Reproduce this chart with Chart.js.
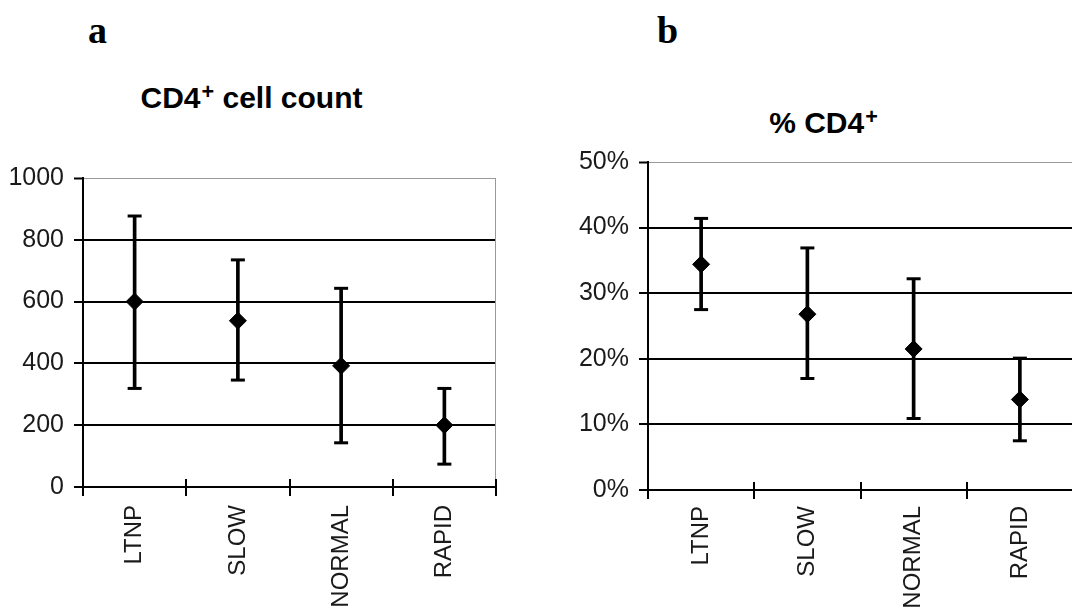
<!DOCTYPE html>
<html>
<head>
<meta charset="utf-8">
<script src="https://cdn.jsdelivr.net/npm/chart.js@4.4.1/dist/chart.umd.min.js"></script>
<style>
  body { margin: 0; background: #fff; width: 1072px; height: 610px; position: relative; overflow: hidden; }
  .letter { position: absolute; font: bold 38px "Liberation Serif", "Times New Roman", serif; line-height: 38px; color: #000; }
  .title { position: absolute; font: bold 30px "Liberation Sans", Arial, sans-serif; line-height: 30px; text-align: center; color: #000; }
  .title .sup { position: relative; top: -0.42em; font-size: 0.72em; margin-left: 1px; }
  .wrap { position: absolute; }
</style>
</head>
<body>
<div class="letter" style="left:88px; top:11px;">a</div>
<div class="letter" style="left:657px; top:11px;">b</div>
<div class="title" style="left:100px; width:303px; top:83px;">CD4<span class="sup">+</span> cell count</div>
<div class="title" style="left:723px; width:201px; top:108px;">% CD4<span class="sup">+</span></div>

<div class="wrap" style="left:0; top:150px; width:540px; height:460px;"><canvas id="countChart"></canvas></div>
<div class="wrap" style="left:540px; top:130px; width:533px; height:480px;"><canvas id="pctChart"></canvas></div>

<script>
// Progression groups
const groups = ["LTNP", "SLOW", "NORMAL", "RAPID"];

// a: CD4+ cell count (mean with range)
const countMean = [600, 538, 392, 200];
const countHigh = [877, 735, 643, 319];
const countLow = [319, 346, 143, 74];

// b: % CD4+ (mean with range)
const pctMean = [34.4, 26.8, 21.5, 13.8];
const pctHigh = [41.4, 36.9, 32.2, 20.1];
const pctLow = [27.5, 17.0, 10.9, 7.5];

const FONT = "'Liberation Sans', Arial, sans-serif";
const TEXT = "#1a1a1a";

/**
 * Plugin: gray frame on the right, and cross ticks on the x axis
 */
const frameAndTicks = {
  id: "frameAndTicks",
  afterDraw(chart) {
    const { ctx, chartArea, scales } = chart;
    const x = scales.x;
    ctx.save();
    ctx.strokeStyle = "#999";
    ctx.lineWidth = 1;
    ctx.beginPath();
    ctx.moveTo(chartArea.right - 0.5, chartArea.top);
    ctx.lineTo(chartArea.right - 0.5, chartArea.bottom);
    ctx.stroke();

    // upper half of the category ticks
    const step = x.getPixelForValue(1) - x.getPixelForValue(0);
    ctx.strokeStyle = "#000";
    ctx.lineWidth = 2;
    ctx.beginPath();
    for (let i = 0; i <= groups.length; i++) {
      const px = Math.round(x.getPixelForValue(i) - step / 2);
      ctx.moveTo(px, chartArea.bottom - 8);
      ctx.lineTo(px, chartArea.bottom);
    }
    ctx.stroke();
    ctx.restore();
  },
};

function buildErrorChart(canvasId, mean, low, high, yOpts, box) {
  const ctx = document.getElementById(canvasId).getContext("2d");
  return new Chart(ctx, {
    data: {
      labels: groups,
      datasets: [
        {
          type: "line",
          data: mean,
          showLine: false,
          pointStyle: "rectRot",
          pointRadius: 8.5,
          backgroundColor: "#000",
          borderColor: "#000",
          borderWidth: 1,
          order: 0,
        },
        {
          type: "line",
          data: high,
          showLine: false,
          pointStyle: "line",
          pointRadius: 7,
          borderColor: "#000",
          borderWidth: 3,
          order: 1,
        },
        {
          type: "line",
          data: low,
          showLine: false,
          pointStyle: "line",
          pointRadius: 7,
          borderColor: "#000",
          borderWidth: 3,
          order: 1,
        },
        {
          type: "bar",
          data: low.map((l, i) => [l, high[i]]),
          backgroundColor: "#000",
          barThickness: 3,
          grouped: false,
          order: 2,
        },
      ],
    },
    options: {
      responsive: true,
      maintainAspectRatio: false,
      animation: false,
      events: [],
      layout: {
        autoPadding: false,
        padding: { top: box.top, right: box.right, left: 0, bottom: 0 },
      },
      plugins: { legend: { display: false }, tooltip: { enabled: false }, title: { display: false } },
      scales: {
        x: {
          type: "category",
          offset: true,
          border: { color: "#000", width: 2 },
          grid: {
            offset: true,
            drawOnChartArea: false,
            color: "#000",
            lineWidth: 2,
            tickLength: 9,
          },
          ticks: {
            autoSkip: false,
            minRotation: 90,
            maxRotation: 90,
            padding: box.xPad,
            color: TEXT,
            font: { family: FONT, size: 24 },
          },
          afterFit: (scale) => {
            scale.height = box.xHeight;
            scale.paddingLeft = 0;
            scale.paddingRight = 0;
          },
        },
        y: {
          min: yOpts.min,
          max: yOpts.max,
          border: { color: "#000", width: 2 },
          grid: {
            color: (c) => (c.tick && c.tick.value === yOpts.max ? "#999" : "#000"),
            lineWidth: (c) => (c.tick && c.tick.value === yOpts.max ? 1 : 2),
            tickColor: "#000",
            tickWidth: 2,
            tickLength: 9,
          },
          ticks: {
            stepSize: yOpts.step,
            padding: 10,
            color: TEXT,
            font: { family: FONT, size: 25 },
            callback: yOpts.format,
          },
          afterFit: (scale) => { scale.width = box.yWidth; },
        },
      },
    },
    plugins: [frameAndTicks],
  });
}

buildErrorChart("countChart", countMean, countLow, countHigh,
  { min: 0, max: 1000, step: 200, format: (v) => v },
  { top: 28, right: 44, yWidth: 83, xHeight: 123, xPad: 9 });

buildErrorChart("pctChart", pctMean, pctLow, pctHigh,
  { min: 0, max: 50, step: 10, format: (v) => v + "%" },
  { top: 32, right: 0, yWidth: 108, xHeight: 120, xPad: 7 });
</script>
</body>
</html>
